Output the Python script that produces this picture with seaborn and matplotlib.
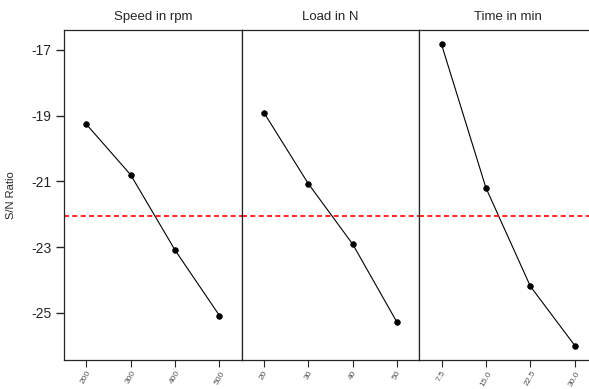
import pandas as pd
import matplotlib.pyplot as plt
import seaborn as sbn

factors = ["Speed in rpm", "Load in N", "Time in min"]
speed_levels = ["200", "300", "400", "500"]
speed_sn = [-19.26, -20.80, -23.09, -25.08]
load_levels = ["20", "30", "40", "50"]
load_sn = [-18.91, -21.07, -22.91, -25.29]
time_levels = ["7.5", "15.0", "22.5", "30.0"]
time_sn = [-16.84, -21.20, -24.19, -25.99]

rows = []
for name, levels, vals in zip(factors, [speed_levels, load_levels, time_levels], [speed_sn, load_sn, time_sn]):
    for lv, v in zip(levels, vals):
        rows.append({"factor": name, "level": lv, "sn": v})
df = pd.DataFrame(rows)
mean_sn = df["sn"].mean()

sbn.set_style("ticks")
plt.rcParams['font.family'] = ['Liberation Sans Narrow', 'Liberation Sans', 'DejaVu Sans']
plt.rcParams['axes.unicode_minus'] = False

fig, axes = plt.subplots(1, 3, figsize=(5.89, 3.89), dpi=100, sharey=True)
fig.subplots_adjust(left=64 / 589, right=597 / 589, top=1 - 30 / 389, bottom=1 - 360 / 389, wspace=0)

for i, (ax, name) in enumerate(zip(axes, factors)):
    sub = df[df["factor"] == name]
    sbn.pointplot(data=sub, x="level", y="sn", order=list(sub["level"]), color="black",
                  markersize=4, linewidth=0.8, errorbar=None, ax=ax)
    ax.axhline(mean_sn, color="red", linestyle="--", linewidth=1.2, dashes=(3, 2))
    ax.set_title(name, fontsize=9.5, pad=7)
    ax.set_xlabel("")
    ax.set_xlim(-0.5, 3.5)
    for side in ["top", "right", "left", "bottom"]:
        ax.spines[side].set_visible(True)
        ax.spines[side].set_linewidth(0.9)
    ax.tick_params(axis="x", labelsize=6, labelcolor="#555555", rotation=60, length=5, width=0.8, pad=2)
    if i == 0:
        ax.set_ylabel("S/N Ratio", fontsize=8)
        ax.yaxis.set_label_coords(-0.27, 0.5)
        ax.tick_params(axis="y", labelsize=10, length=6, width=1, pad=3)
    else:
        ax.set_ylabel("")
        ax.tick_params(axis="y", left=False)

axes[0].set_ylim(-26.43, -16.4)
axes[0].set_yticks([-17, -19, -21, -23, -25])

plt.savefig("out.png", dpi=100)
